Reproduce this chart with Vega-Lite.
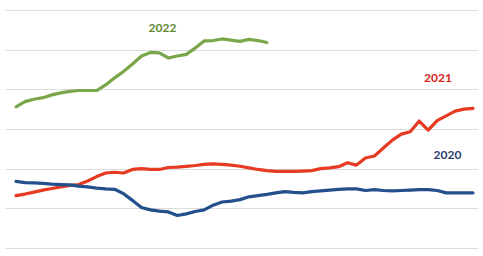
{
  "$schema": "https://vega.github.io/schema/vega-lite/v6.json",
  "width": 483,
  "height": 256,
  "autosize": {"type": "fit", "contains": "padding"},
  "padding": {"left": 5, "right": 5, "top": 10, "bottom": 8},
  "background": "white",
  "config": {"view": {"stroke": null}},
  "datasets": {
    "series": [
      {"year": "2022", "w": 1, "v": 3.56}, {"year": "2022", "w": 2, "v": 3.69}, {"year": "2022", "w": 3, "v": 3.75}, {"year": "2022", "w": 4, "v": 3.79}, {"year": "2022", "w": 5, "v": 3.86}, {"year": "2022", "w": 6, "v": 3.91}, {"year": "2022", "w": 7, "v": 3.95}, {"year": "2022", "w": 8, "v": 3.97}, {"year": "2022", "w": 9, "v": 3.97}, {"year": "2022", "w": 10, "v": 3.97}, {"year": "2022", "w": 11, "v": 4.11}, {"year": "2022", "w": 12, "v": 4.29}, {"year": "2022", "w": 13, "v": 4.45}, {"year": "2022", "w": 14, "v": 4.64}, {"year": "2022", "w": 15, "v": 4.84}, {"year": "2022", "w": 16, "v": 4.93}, {"year": "2022", "w": 17, "v": 4.92}, {"year": "2022", "w": 18, "v": 4.79}, {"year": "2022", "w": 19, "v": 4.84}, {"year": "2022", "w": 20, "v": 4.88}, {"year": "2022", "w": 21, "v": 5.04}, {"year": "2022", "w": 22, "v": 5.22}, {"year": "2022", "w": 23, "v": 5.23}, {"year": "2022", "w": 24, "v": 5.27}, {"year": "2022", "w": 25, "v": 5.24}, {"year": "2022", "w": 26, "v": 5.21}, {"year": "2022", "w": 27, "v": 5.26}, {"year": "2022", "w": 28, "v": 5.23}, {"year": "2022", "w": 29, "v": 5.18},
      {"year": "2021", "w": 1, "v": 1.32}, {"year": "2021", "w": 2, "v": 1.36}, {"year": "2021", "w": 3, "v": 1.41}, {"year": "2021", "w": 4, "v": 1.46}, {"year": "2021", "w": 5, "v": 1.50}, {"year": "2021", "w": 6, "v": 1.54}, {"year": "2021", "w": 7, "v": 1.58}, {"year": "2021", "w": 8, "v": 1.60}, {"year": "2021", "w": 9, "v": 1.69}, {"year": "2021", "w": 10, "v": 1.80}, {"year": "2021", "w": 11, "v": 1.89}, {"year": "2021", "w": 12, "v": 1.91}, {"year": "2021", "w": 13, "v": 1.89}, {"year": "2021", "w": 14, "v": 1.98}, {"year": "2021", "w": 15, "v": 2.00}, {"year": "2021", "w": 16, "v": 1.98}, {"year": "2021", "w": 17, "v": 1.98}, {"year": "2021", "w": 18, "v": 2.03}, {"year": "2021", "w": 19, "v": 2.04}, {"year": "2021", "w": 20, "v": 2.06}, {"year": "2021", "w": 21, "v": 2.08}, {"year": "2021", "w": 22, "v": 2.11}, {"year": "2021", "w": 23, "v": 2.12}, {"year": "2021", "w": 24, "v": 2.11}, {"year": "2021", "w": 25, "v": 2.09}, {"year": "2021", "w": 26, "v": 2.06}, {"year": "2021", "w": 27, "v": 2.02}, {"year": "2021", "w": 28, "v": 1.98}, {"year": "2021", "w": 29, "v": 1.95}, {"year": "2021", "w": 30, "v": 1.93}, {"year": "2021", "w": 31, "v": 1.93}, {"year": "2021", "w": 32, "v": 1.93}, {"year": "2021", "w": 33, "v": 1.94}, {"year": "2021", "w": 34, "v": 1.95}, {"year": "2021", "w": 35, "v": 2.00}, {"year": "2021", "w": 36, "v": 2.02}, {"year": "2021", "w": 37, "v": 2.05}, {"year": "2021", "w": 38, "v": 2.15}, {"year": "2021", "w": 39, "v": 2.09}, {"year": "2021", "w": 40, "v": 2.27}, {"year": "2021", "w": 41, "v": 2.32}, {"year": "2021", "w": 42, "v": 2.52}, {"year": "2021", "w": 43, "v": 2.72}, {"year": "2021", "w": 44, "v": 2.87}, {"year": "2021", "w": 45, "v": 2.93}, {"year": "2021", "w": 46, "v": 3.20}, {"year": "2021", "w": 47, "v": 2.97}, {"year": "2021", "w": 48, "v": 3.21}, {"year": "2021", "w": 49, "v": 3.33}, {"year": "2021", "w": 50, "v": 3.45}, {"year": "2021", "w": 51, "v": 3.50}, {"year": "2021", "w": 52, "v": 3.52},
      {"year": "2020", "w": 1, "v": 1.68}, {"year": "2020", "w": 2, "v": 1.65}, {"year": "2020", "w": 3, "v": 1.64}, {"year": "2020", "w": 4, "v": 1.63}, {"year": "2020", "w": 5, "v": 1.61}, {"year": "2020", "w": 6, "v": 1.60}, {"year": "2020", "w": 7, "v": 1.59}, {"year": "2020", "w": 8, "v": 1.56}, {"year": "2020", "w": 9, "v": 1.54}, {"year": "2020", "w": 10, "v": 1.51}, {"year": "2020", "w": 11, "v": 1.49}, {"year": "2020", "w": 12, "v": 1.48}, {"year": "2020", "w": 13, "v": 1.37}, {"year": "2020", "w": 14, "v": 1.20}, {"year": "2020", "w": 15, "v": 1.02}, {"year": "2020", "w": 16, "v": 0.96}, {"year": "2020", "w": 17, "v": 0.93}, {"year": "2020", "w": 18, "v": 0.91}, {"year": "2020", "w": 19, "v": 0.82}, {"year": "2020", "w": 20, "v": 0.86}, {"year": "2020", "w": 21, "v": 0.92}, {"year": "2020", "w": 22, "v": 0.96}, {"year": "2020", "w": 23, "v": 1.08}, {"year": "2020", "w": 24, "v": 1.16}, {"year": "2020", "w": 25, "v": 1.18}, {"year": "2020", "w": 26, "v": 1.22}, {"year": "2020", "w": 27, "v": 1.29}, {"year": "2020", "w": 28, "v": 1.32}, {"year": "2020", "w": 29, "v": 1.35}, {"year": "2020", "w": 30, "v": 1.39}, {"year": "2020", "w": 31, "v": 1.42}, {"year": "2020", "w": 32, "v": 1.40}, {"year": "2020", "w": 33, "v": 1.39}, {"year": "2020", "w": 34, "v": 1.42}, {"year": "2020", "w": 35, "v": 1.44}, {"year": "2020", "w": 36, "v": 1.46}, {"year": "2020", "w": 37, "v": 1.48}, {"year": "2020", "w": 38, "v": 1.49}, {"year": "2020", "w": 39, "v": 1.49}, {"year": "2020", "w": 40, "v": 1.45}, {"year": "2020", "w": 41, "v": 1.47}, {"year": "2020", "w": 42, "v": 1.45}, {"year": "2020", "w": 43, "v": 1.44}, {"year": "2020", "w": 44, "v": 1.45}, {"year": "2020", "w": 45, "v": 1.46}, {"year": "2020", "w": 46, "v": 1.47}, {"year": "2020", "w": 47, "v": 1.47}, {"year": "2020", "w": 48, "v": 1.45}, {"year": "2020", "w": 49, "v": 1.39}, {"year": "2020", "w": 50, "v": 1.39}, {"year": "2020", "w": 51, "v": 1.39}, {"year": "2020", "w": 52, "v": 1.39}
    ],
    "labels": [
      {"year": "2022", "w": 17.35, "v": 5.54},
      {"year": "2021", "w": 48.1, "v": 4.29},
      {"year": "2020", "w": 49.16, "v": 2.34}
    ]
  },
  "encoding": {
    "x": {"field": "w", "type": "quantitative", "scale": {"domain": [-0.23, 52.56], "nice": false, "zero": false}, "axis": null},
    "y": {"field": "v", "type": "quantitative", "scale": {"domain": [0, 6], "nice": false}, "axis": {"values": [0, 1, 2, 3, 4, 5, 6], "tickCount": 7, "grid": true, "gridColor": "#dcdcdc", "gridWidth": 1, "domain": false, "ticks": false, "labels": false, "labelOverlap": false, "title": null}}
  },
  "layer": [
    {
      "data": {"name": "series"},
      "mark": {"type": "line", "strokeWidth": 3.2, "strokeJoin": "round", "strokeCap": "round"},
      "encoding": {
        "color": {"field": "year", "type": "nominal", "scale": {"domain": ["2020", "2021", "2022"], "range": ["#234f8c", "#e63a22", "#7aa64a"]}, "legend": null},
        "detail": {"field": "year"}
      }
    },
    {
      "data": {"name": "labels"},
      "mark": {"type": "text", "font": "Lato", "fontWeight": "bold", "fontSize": 12, "align": "center", "baseline": "middle"},
      "encoding": {
        "text": {"field": "year"},
        "color": {"field": "year", "type": "nominal", "scale": {"domain": ["2020", "2021", "2022"], "range": ["#2b3f72", "#d8261c", "#5f8a32"]}, "legend": null}
      }
    }
  ],
  "resolve": {"scale": {"color": "independent"}}
}
